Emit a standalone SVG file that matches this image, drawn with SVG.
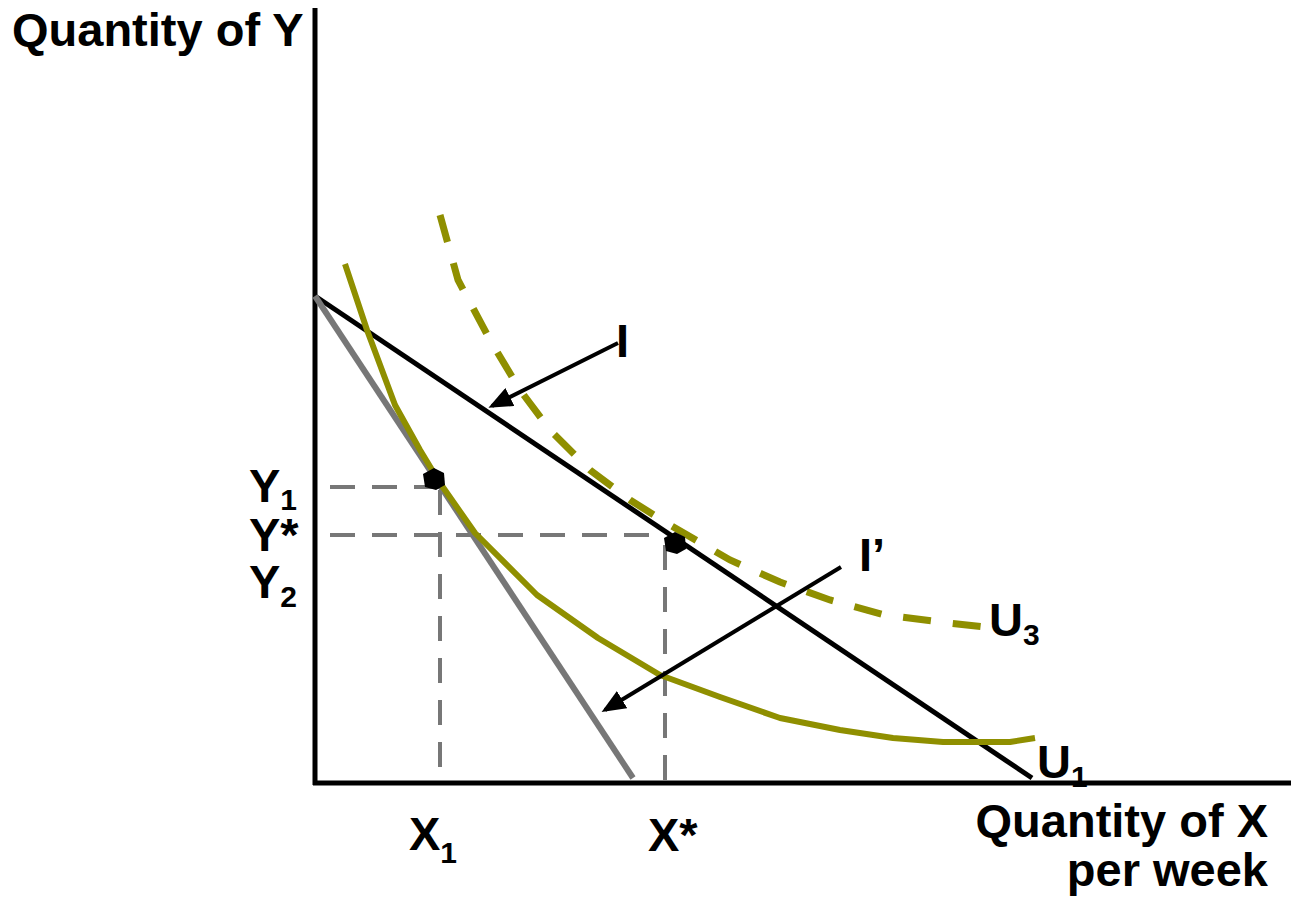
<svg xmlns="http://www.w3.org/2000/svg" width="1291" height="903" viewBox="0 0 1291 903">
<style>
text{font-family:"Liberation Sans",Arial,sans-serif;font-weight:bold;fill:#000;font-size:47px}
.sub{font-size:30px}
.axis{stroke:#000;stroke-width:5;fill:none}
.budget{stroke:#000;stroke-width:5;fill:none}
.budget2{stroke:#777;stroke-width:6;fill:none}
.guide{stroke:#777;stroke-width:4;fill:none;stroke-dasharray:25 17}
.u1{stroke:#8f8f00;stroke-width:6;fill:none;stroke-linejoin:round}
.u3{stroke:#8f8f00;stroke-width:7;fill:none;stroke-dasharray:28 22}
.ptr{stroke:#000;stroke-width:4;fill:none}
.dot{fill:#000}
</style>
<defs>
<marker id="ah" markerWidth="6" markerHeight="5" refX="5" refY="2.5" orient="auto" markerUnits="strokeWidth">
<path d="M0,0 L6,2.5 L0,5 Z" fill="#000"/>
</marker>
</defs>
<g id="axes">
<line class="axis" x1="315" y1="8" x2="315" y2="785"/>
<line class="axis" x1="313" y1="783" x2="1291" y2="783"/>
</g>
<g id="guides">
<line class="guide" x1="330" y1="487" x2="440" y2="487"/>
<line class="guide" x1="330" y1="535" x2="665" y2="535"/>
<line class="guide" x1="440" y1="490" x2="440" y2="780"/>
<line class="guide" x1="665" y1="545" x2="665" y2="780"/>
</g>
<g id="connectors">
<line id="budget-I" class="budget" x1="315" y1="296" x2="1032" y2="778"/>
<line id="budget-I2" class="budget2" x1="315" y1="296" x2="633" y2="778"/>
<polyline id="U1" class="u1" points="345,264 367,330 395,405 420,450 440,483 475,533 537,595 598,638 660,675 720,697 780,718 840,730 893,738 943,742 1010,742 1035,738"/>
<polyline id="U3" class="u3" points="440,215 458,280 490,340 520,390 550,430 590,470 630,500 670,525 730,560 780,582 830,600 885,615 940,622 985,627"/>
<line id="ptr-I" class="ptr" x1="618" y1="343" x2="492" y2="406" marker-end="url(#ah)"/>
<line id="ptr-I2" class="ptr" x1="841" y1="567" x2="605" y2="710" marker-end="url(#ah)"/>
</g>
<g id="point-1"><polygon class="dot" points="434,468 444,473 445,485 436,490 425,487 423,474"/></g>
<g id="point-2"><polygon class="dot" points="675,532 685,537 686,549 677,554 666,551 664,538"/></g>
<g id="labels">
<text x="12" y="46">Quantity of Y</text>
<text x="1268" y="837" text-anchor="end">Quantity of X</text>
<text x="1268" y="886" text-anchor="end">per week</text>
<text x="616" y="357">I</text>
<text x="859" y="571">I’</text>
<text x="989" y="636">U<tspan class="sub" dy="9">3</tspan></text>
<text x="1037" y="778">U<tspan class="sub" dy="9">1</tspan></text>
<text x="249" y="502">Y<tspan class="sub" dy="8">1</tspan></text>
<text x="249" y="551">Y*</text>
<text x="249" y="598">Y<tspan class="sub" dy="9">2</tspan></text>
<text x="409" y="850">X<tspan class="sub" dy="13">1</tspan></text>
<text x="648" y="851">X*</text>
</g>
</svg>
